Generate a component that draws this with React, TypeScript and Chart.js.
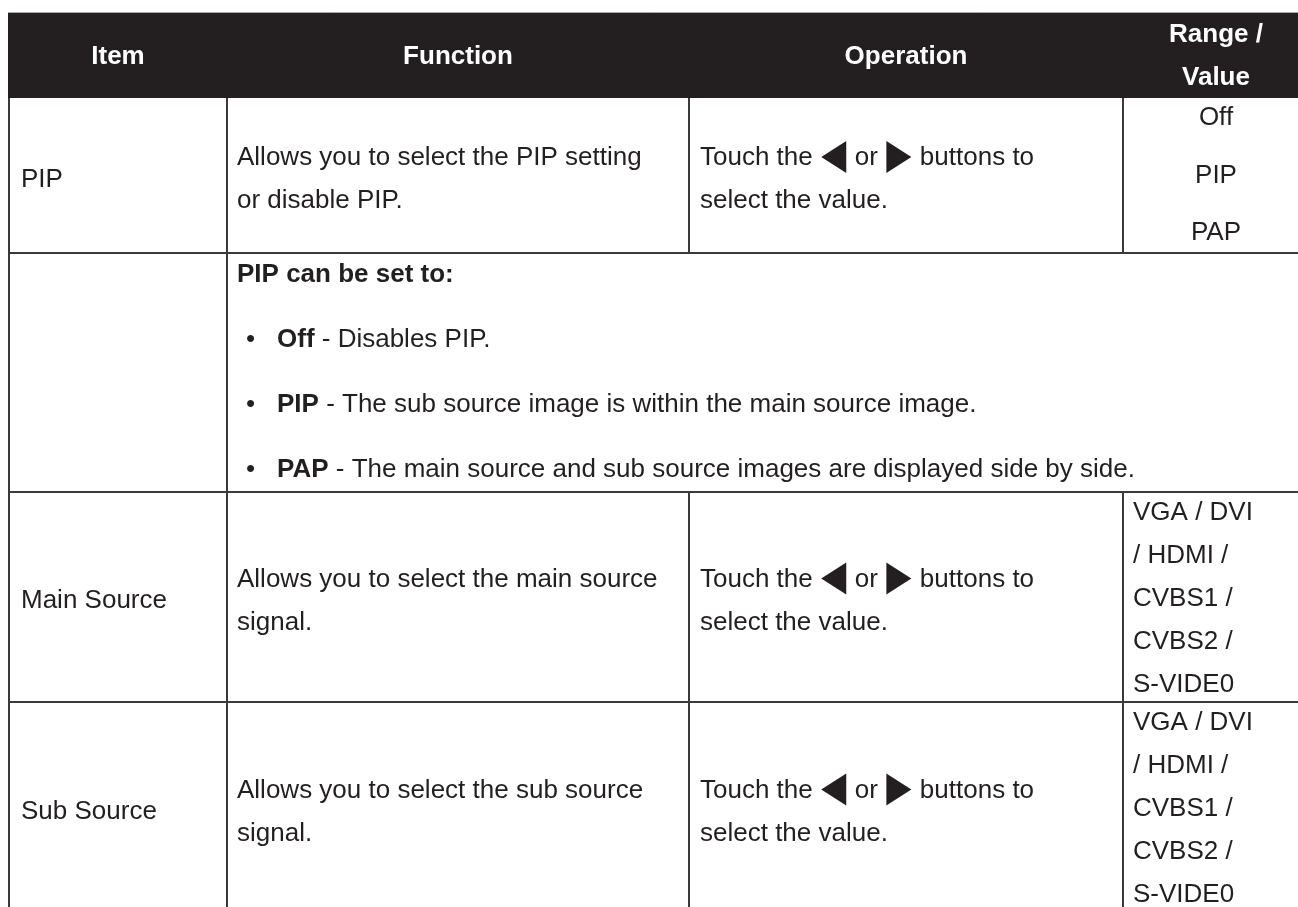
import React, { useEffect, useRef } from "react";
import { Chart, registerables } from "chart.js";

Chart.register(...registerables);

// ---------- content ----------
const headerLines: string[][] = [["Item"], ["Function"], ["Operation"], ["Range /", "Value"]];
const items: string[] = ["PIP", "", "Main Source", "Sub Source"];
const functionLines: string[][] = [
  ["Allows you to select the PIP setting", "or disable PIP."],
  [],
  ["Allows you to select the main source", "signal."],
  ["Allows you to select the sub source", "signal."],
];
// "<" and ">" tokens stand for the left / right arrow buttons
const operationFirst: string[] = ["Touch the", "<", "or", ">", "buttons to"];
const operationSecond = "select the value.";
const operationRows: boolean[] = [true, false, true, true];
const rangeValues: string[][] = [
  ["Off", "PIP", "PAP"],
  [],
  ["VGA / DVI", "/ HDMI /", "CVBS1 /", "CVBS2 /", "S-VIDE0"],
  ["VGA / DVI", "/ HDMI /", "CVBS1 /", "CVBS2 /", "S-VIDE0"],
];
const noteTitle = "PIP can be set to:";
const noteModes: string[] = ["Off", "PIP", "PAP"];
const noteDescriptions: string[] = [
  " - Disables PIP.",
  " - The sub source image is within the main source image.",
  " - The main source and sub source images are displayed side by side.",
];

// ---------- layout (scale units) ----------
const W = 1298;
const H = 907;
const COL = [9, 227, 689, 1123, 1309];
const ROW = [12.5, 98, 253, 492, 702, 914];
const FONT = "'Liberation Sans', Arial, Helvetica, sans-serif";
const SIZE = 26;
const TEXT = "#231f20";
const LINE = "#3a3a3a";

const tablePlugin = {
  id: "tableDraw",
  afterDraw(chart: any) {
    const { ctx } = chart;
    const xs = chart.scales.x;
    const ys = chart.scales.y;
    const X = (v: number) => xs.getPixelForValue(v);
    const Y = (v: number) => ys.getPixelForValue(v);
    const reg = `${SIZE}px ${FONT}`;
    const bold = `bold ${SIZE}px ${FONT}`;
    ctx.save();

    // header band
    ctx.fillStyle = "#231f20";
    ctx.fillRect(X(COL[0] - 1), Y(ROW[0]), X(COL[4]) - X(COL[0] - 1), Y(ROW[1]) - Y(ROW[0]));
    ctx.strokeStyle = "#a9a9a9";
    ctx.lineWidth = 1;
    ctx.beginPath();
    ctx.moveTo(X(COL[0] - 1), Y(ROW[0]));
    ctx.lineTo(X(COL[4]), Y(ROW[0]));
    ctx.stroke();

    // header text
    ctx.fillStyle = "#ffffff";
    ctx.font = bold;
    ctx.textAlign = "center";
    ctx.textBaseline = "middle";
    headerLines.forEach((lines, c) => {
      const cx = (COL[c] + COL[c + 1]) / 2;
      const mid = 56.5;
      lines.forEach((t, i) => {
        const cy = mid + (i - (lines.length - 1) / 2) * 43;
        ctx.fillText(t, X(cx), Y(cy));
      });
    });

    // grid lines
    ctx.strokeStyle = LINE;
    ctx.lineWidth = 2;
    const seg = (x1: number, y1: number, x2: number, y2: number) => {
      ctx.beginPath();
      ctx.moveTo(X(x1), Y(y1));
      ctx.lineTo(X(x2), Y(y2));
      ctx.stroke();
    };
    seg(COL[0], ROW[1], COL[0], ROW[5]);
    seg(COL[1], ROW[1], COL[1], ROW[5]);
    for (let r = 0; r < items.length; r++) {
      if (operationRows[r]) {
        seg(COL[2], ROW[r + 1], COL[2], ROW[r + 2]);
        seg(COL[3], ROW[r + 1], COL[3], ROW[r + 2]);
      }
    }
    for (let r = 2; r < ROW.length - 1; r++) seg(COL[0] - 1, ROW[r], COL[4], ROW[r]);

    ctx.fillStyle = TEXT;
    ctx.textBaseline = "middle";

    for (let r = 0; r < items.length; r++) {
      const top = ROW[r + 1];
      const bottom = ROW[r + 2];
      const mid = (top + bottom) / 2 + 4;

      // item
      ctx.font = reg;
      ctx.textAlign = "left";
      if (items[r]) ctx.fillText(items[r], X(COL[0] + 12), Y(mid));

      // function
      const fl = functionLines[r];
      fl.forEach((t, i) => {
        ctx.fillText(t, X(COL[1] + 10), Y(mid + (i - (fl.length - 1) / 2) * 43));
      });

      // operation
      if (operationRows[r]) {
        const y1 = mid - 21.5;
        const y2 = mid + 21.5;
        let cx = COL[2] + 11;
        const gap = 8.5;
        const triW = 25;
        const triH = 32;
        operationFirst.forEach((tok) => {
          if (tok === "<" || tok === ">") {
            const cyT = y1 - 1;
            ctx.beginPath();
            if (tok === "<") {
              ctx.moveTo(X(cx), Y(cyT));
              ctx.lineTo(X(cx + triW), Y(cyT - triH / 2));
              ctx.lineTo(X(cx + triW), Y(cyT + triH / 2));
            } else {
              ctx.moveTo(X(cx + triW), Y(cyT));
              ctx.lineTo(X(cx), Y(cyT - triH / 2));
              ctx.lineTo(X(cx), Y(cyT + triH / 2));
            }
            ctx.closePath();
            ctx.fill();
            cx += triW + gap;
          } else {
            ctx.fillText(tok, X(cx), Y(y1));
            cx += ctx.measureText(tok).width + gap;
          }
        });
        ctx.fillText(operationSecond, X(COL[2] + 11), Y(y2));
      }

      // range / value
      const rv = rangeValues[r];
      if (r === 0) {
        ctx.textAlign = "center";
        const centers = [118, 176, 233];
        rv.forEach((t, i) => ctx.fillText(t, X((COL[3] + COL[4]) / 2), Y(centers[i])));
        ctx.textAlign = "left";
      } else {
        rv.forEach((t, i) => ctx.fillText(t, X(COL[3] + 10), Y(top + 21 + i * 43)));
      }
    }

    // note row (PIP modes)
    const nTop = ROW[2];
    ctx.textAlign = "left";
    ctx.font = bold;
    ctx.fillText(noteTitle, X(COL[1] + 10), Y(nTop + 22));
    noteModes.forEach((m, i) => {
      const cy = nTop + 87 + i * 65;
      ctx.font = reg;
      ctx.fillText("\u2022", X(COL[1] + 19), Y(cy));
      ctx.font = bold;
      const bx = COL[1] + 50;
      ctx.fillText(m, X(bx), Y(cy));
      const w = ctx.measureText(m).width;
      ctx.font = reg;
      ctx.fillText(noteDescriptions[i], X(bx + w), Y(cy));
    });

    ctx.restore();
  },
};

export default function App() {
  const ref = useRef<HTMLCanvasElement | null>(null);
  useEffect(() => {
    if (!ref.current) return;
    const chart = new Chart(ref.current, {
      type: "scatter",
      data: { datasets: [] },
      options: {
        animation: false,
        responsive: false,
        devicePixelRatio: 1,
        layout: { padding: 0 },
        plugins: { legend: { display: false }, tooltip: { enabled: false }, title: { display: false } },
        scales: {
          x: { type: "linear", min: 0, max: W, display: false },
          y: { type: "linear", min: 0, max: H, reverse: true, display: false },
        },
      },
      plugins: [tablePlugin],
    });
    return () => chart.destroy();
  }, []);
  return (
    <div style={{ position: "fixed", left: 0, top: 0, width: W, height: H, overflow: "hidden", background: "#fff" }}>
      <canvas ref={ref} width={W} height={H} style={{ width: W, height: H, display: "block" }} />
    </div>
  );
}
